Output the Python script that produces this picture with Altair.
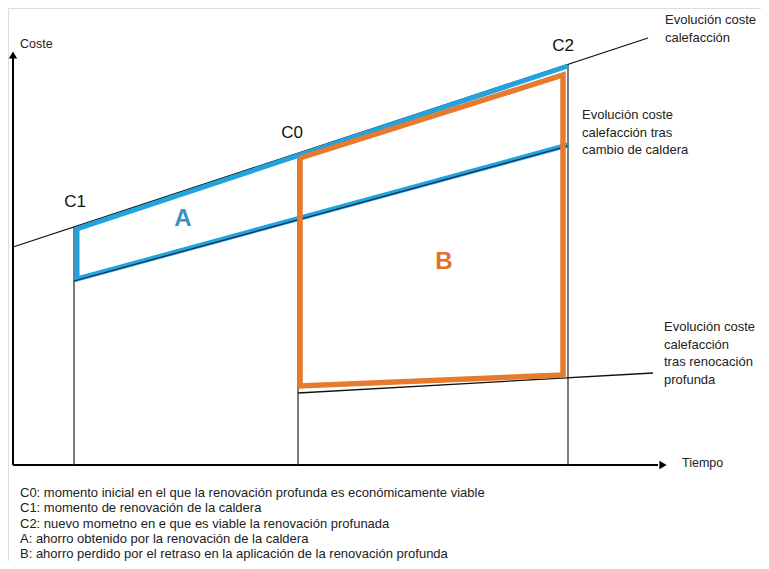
import altair as alt
import pandas as pd

# ---- data (abstract units: time t, cost c) ----
moment_names = ["C1", "C0", "C2"]
moment_times = [61, 285, 555]

# heating cost evolution (original)
line1_t = [0, 635]
line1_c = [218, 427]
# after boiler change
line2_t = [61, 555]
line2_c = [184, 319]
# after deep renovation
line3_t = [285, 640]
line3_c = [72, 92]

# area A outline (blue) and area B outline (orange)
areaA_t = [555, 64, 64, 555]
areaA_c = [399, 236, 186, 320]
areaB_t = [287, 550, 550, 287, 287]
areaB_c = [307, 390, 90, 79, 307]

legend_lines = [
    "C0: momento inicial en el que la renovación profunda es económicamente viable",
    "C1: momento de renovación de la caldera",
    "C2: nuevo mometno en e que es viable la renovación profunada",
    "A: ahorro obtenido por la renovación de la caldera",
    "B: ahorro perdido por el retraso en la aplicación de la renovación profunda",
]
series_labels = [
    "Evolución coste\ncalefacción",
    "Evolución coste\ncalefacción tras\ncambio de caldera",
    "Evolución coste\ncalefacción\ntras renocación\nprofunda",
]

FONT = "Liberation Sans"
BLUE = "#22A2DE"
ORANGE = "#E67A2E"

xs = alt.Scale(domain=[-5, 748], nice=False, zero=False)
ys = alt.Scale(domain=[-96, 457], nice=False, zero=False)
X = lambda f="t": alt.X(f"{f}:Q", scale=xs, axis=None)
Y = lambda f="c": alt.Y(f"{f}:Q", scale=ys, axis=None)


def line_at(t, ts, cs):
    return cs[0] + (cs[1] - cs[0]) * (t - ts[0]) / (ts[1] - ts[0])


# axes
axes_df = pd.DataFrame({"t": [0, 0], "t2": [0, 645], "c": [0, 0], "c2": [408, 0]})
axes = alt.Chart(axes_df).mark_rule(color="black", strokeWidth=2).encode(
    x=X(), x2="t2:Q", y=Y(), y2="c2:Q"
)
arrows_df = pd.DataFrame({"t": [0, 650], "c": [410, 0], "shape": ["triangle-up", "triangle-right"]})
arrows = alt.Chart(arrows_df).mark_point(filled=True, color="black", size=70, opacity=1).encode(
    x=X(), y=Y(), shape=alt.Shape("shape:N", scale=None, legend=None)
)

# vertical moment lines
vert_df = pd.DataFrame({
    "t": moment_times,
    "c": [0] * 3,
    "c2": [line_at(t, line1_t, line1_c) for t in moment_times],
})
verts = alt.Chart(vert_df).mark_rule(color="#333333", strokeWidth=1.3).encode(
    x=X(), y=Y(), y2="c2:Q"
)

lines_df = pd.DataFrame({
    "t": line1_t + line3_t,
    "c": line1_c + line3_c,
    "s": ["l1", "l1", "l3", "l3"],
})
black_lines = alt.Chart(lines_df).mark_line(color="#111111", strokeWidth=1.3).encode(
    x=X(), y=Y(), detail="s:N"
)

a_df = pd.DataFrame({"t": areaA_t, "c": areaA_c, "o": list(range(len(areaA_t)))})
area_a = alt.Chart(a_df).mark_line(color=BLUE, strokeWidth=5, strokeJoin="miter").encode(
    x=X(), y=Y(), order="o:Q"
)
l2_df = pd.DataFrame({"t": line2_t, "c": line2_c})
line2 = alt.Chart(l2_df).mark_line(color="#1a2a4a", strokeWidth=1.2).encode(x=X(), y=Y())

b_df = pd.DataFrame({"t": areaB_t, "c": areaB_c, "o": list(range(len(areaB_t)))})
area_b = alt.Chart(b_df).mark_line(color=ORANGE, strokeWidth=5.5, strokeJoin="miter").encode(
    x=X(), y=Y(), order="o:Q"
)

# text labels
moment_lbl_df = pd.DataFrame({"t": [62, 279, 550], "c": [263, 332, 419], "text": moment_names})
moment_lbl = alt.Chart(moment_lbl_df).mark_text(font=FONT, fontSize=17, color="#111111").encode(
    x=X(), y=Y(), text="text:N"
)
ab_df = pd.DataFrame({"t": [170, 431], "c": [246, 203], "text": ["A", "B"], "col": ["#3D8FC6", "#E2702C"]})
ab_lbl = alt.Chart(ab_df).mark_text(font=FONT, fontSize=24, fontWeight="bold").encode(
    x=X(), y=Y(), text="text:N", color=alt.Color("col:N", scale=None, legend=None)
)
axis_lbl_df = pd.DataFrame({"t": [7, 669], "c": [421, 2], "text": ["Coste", "Tiempo"]})
axis_lbl = alt.Chart(axis_lbl_df).mark_text(font=FONT, fontSize=12.5, color="#222222", align="left").encode(
    x=X(), y=Y(), text="text:N"
)
series_df = pd.DataFrame({"t": [652, 569, 651], "c": [451, 356, 144], "text": series_labels})
series_lbl = alt.Chart(series_df).mark_text(
    font=FONT, fontSize=13, color="#222222", align="left", baseline="top", lineBreak="\n", lineHeight=17.5
).encode(x=X(), y=Y(), text="text:N")

leg_df = pd.DataFrame({
    "t": [7] * len(legend_lines),
    "c": [-28 - 15.3 * i for i in range(len(legend_lines))],
    "text": legend_lines,
})
leg_lbl = alt.Chart(leg_df).mark_text(font=FONT, fontSize=13, color="#222222", align="left").encode(
    x=X(), y=Y(), text="text:N"
)

chart = alt.layer(
    axes, verts, black_lines, area_a, line2, area_b, arrows,
    moment_lbl, ab_lbl, axis_lbl, series_lbl, leg_lbl,
).properties(
    width=753, height=553, autosize=alt.AutoSizeParams(type="none"), padding=0
).configure_view(strokeWidth=0).configure(background="white")

chart.save("out.html", embed_options={"renderer": "svg", "actions": False})
